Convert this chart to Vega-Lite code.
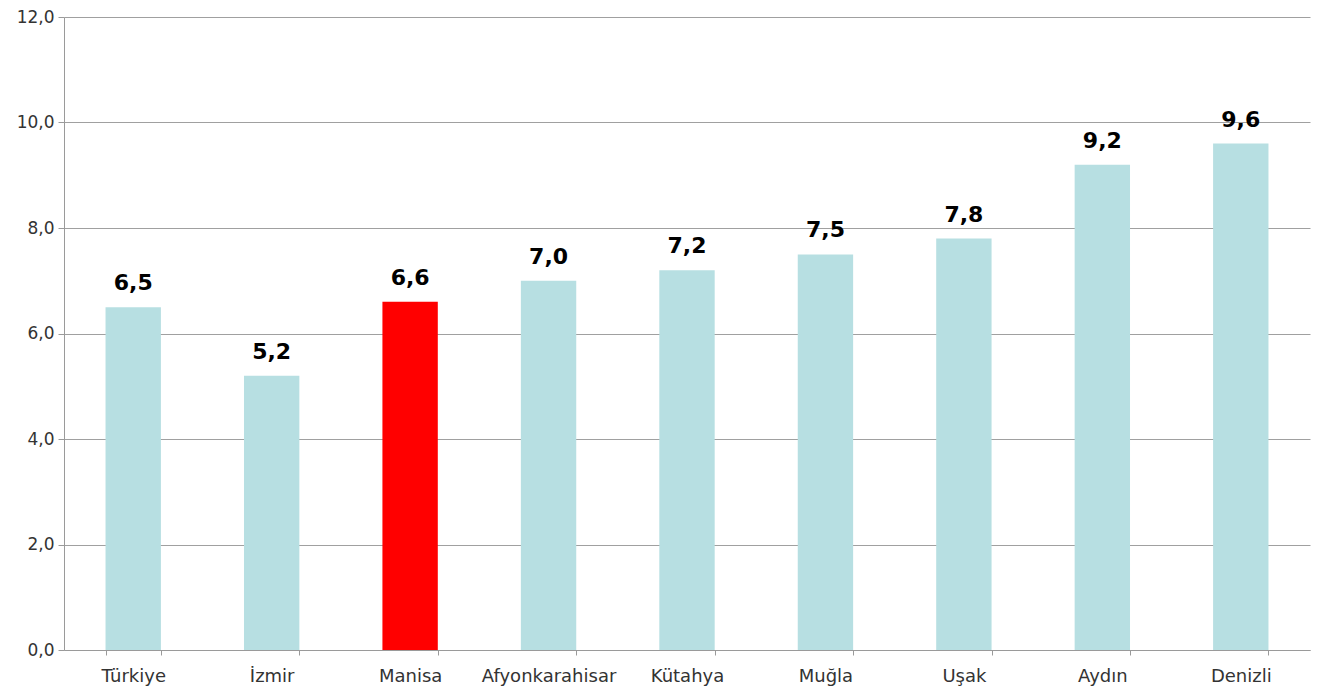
{
  "$schema": "https://vega.github.io/schema/vega-lite/v6.json",
  "autosize": {"type": "none"},
  "width": 1246,
  "height": 633,
  "padding": {"left": 64, "top": 17, "right": 10, "bottom": 45},
  "background": "white",
  "config": {"view": {"stroke": null}, "font": "DejaVu Sans",
    "locale": {"number": {"decimal": ",", "thousands": ".", "grouping": [3], "currency": ["", " TL"]}}},
  "data": {"values": [
    {"il": "Türkiye", "deger": 6.5, "vurgu": "hayir"},
    {"il": "İzmir", "deger": 5.2, "vurgu": "hayir"},
    {"il": "Manisa", "deger": 6.6, "vurgu": "evet"},
    {"il": "Afyonkarahisar", "deger": 7.0, "vurgu": "hayir"},
    {"il": "Kütahya", "deger": 7.2, "vurgu": "hayir"},
    {"il": "Muğla", "deger": 7.5, "vurgu": "hayir"},
    {"il": "Uşak", "deger": 7.8, "vurgu": "hayir"},
    {"il": "Aydın", "deger": 9.2, "vurgu": "hayir"},
    {"il": "Denizli", "deger": 9.6, "vurgu": "hayir"}
  ]},
  "encoding": {
    "x": {"field": "il", "type": "nominal", "sort": null,
      "scale": {"paddingInner": 0.6, "paddingOuter": 0.3},
      "axis": {"title": null, "labelAngle": 0, "labelFontSize": 18, "labelColor": "#333333",
        "labelPadding": 12, "domainColor": "#9a9a9a", "tickColor": "#9a9a9a", "tickBand": "extent",
        "tickSize": 5, "grid": false}},
    "y": {"field": "deger", "type": "quantitative",
      "scale": {"domain": [0, 12], "nice": false},
      "axis": {"title": null, "values": [0, 2, 4, 6, 8, 10, 12], "format": ".1f",
        "labelFontSize": 17, "labelColor": "#333333", "labelPadding": 4,
        "grid": true, "gridColor": "#a0a0a0", "gridWidth": 1.2,
        "domainColor": "#9a9a9a", "tickColor": "#9a9a9a", "tickSize": 6}}
  },
  "layer": [
    {"mark": {"type": "bar"},
     "encoding": {"color": {"field": "vurgu", "type": "nominal",
       "scale": {"domain": ["hayir", "evet"], "range": ["#b7dfe2", "#ff0000"]}, "legend": null}}},
    {"mark": {"type": "text", "baseline": "alphabetic", "dy": -17, "fontSize": 22, "fontWeight": "bold", "color": "#000000"},
     "encoding": {"text": {"field": "deger", "type": "quantitative", "format": ".1f"}}}
  ]
}
